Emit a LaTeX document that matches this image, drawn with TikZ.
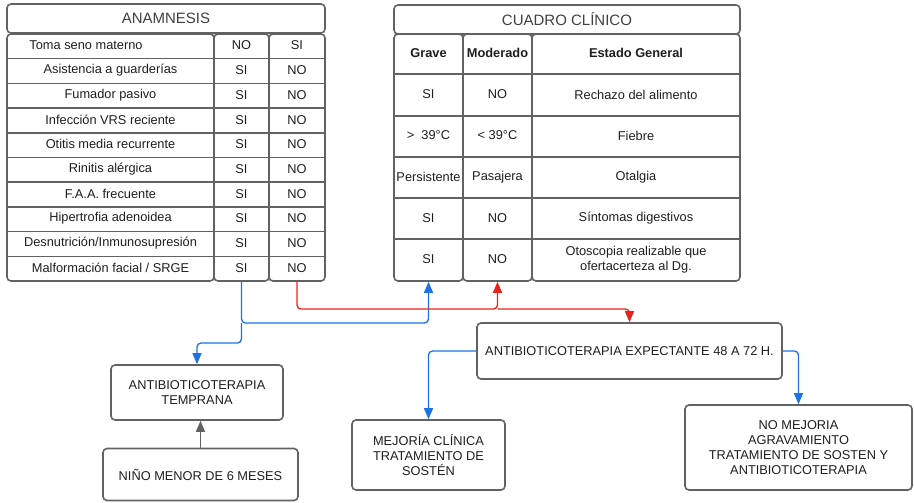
\documentclass[tikz,border=0pt]{standalone}
\usepackage{fontspec}
\setmainfont{Liberation Sans}
\usetikzlibrary{arrows.meta}
\definecolor{edge}{HTML}{626262}
\definecolor{flowblue}{HTML}{1A72E6}
\definecolor{flowred}{HTML}{E8231A}
\definecolor{ink}{HTML}{1E1E1E}

\begin{document}
\begin{tikzpicture}[x=1pt,y=-1pt,
  box/.style={draw=edge, line width=1.6pt, rounded corners=4pt, inner sep=0pt,
    text=ink, align=center, font=\fontsize{12.8}{15}\selectfont},
  titlebox/.style={box, font=\fontsize{15}{18}\selectfont, text=ink!85},
  colbox/.style={draw=edge, line width=1.6pt, rounded corners=4pt, inner sep=0pt},
  cell/.style={inner sep=0pt, text=ink, align=center, font=\fontsize{12.8}{15}\selectfont},
  headcell/.style={cell, font=\fontsize{12.8}{15}\selectfont\bfseries},
  rowline/.style={draw=edge, line width=1.6pt},
  link/.style={line width=1.3pt, rounded corners=4pt, -{Triangle[width=9pt,length=11pt]}}
]
\useasboundingbox (0,0) rectangle (914,503);

% ---------- Anamnesis table ----------
\node[titlebox, minimum width=318pt, minimum height=29pt] (anamT) at (166,18.5) {ANAMNESIS};
\node[colbox, minimum width=207pt, minimum height=247pt] (anamA) at (110.5,157.5) {};
\node[colbox, minimum width=55pt, minimum height=247pt] (anamB) at (241.5,157.5) {};
\node[colbox, minimum width=56pt, minimum height=247pt] (anamC) at (297,157.5) {};
\foreach \y in {58.7,83.4,108.1,132.8,157.5,182.2,206.9,231.6,256.3}
  \draw[rowline] (7,\y) -- (325,\y);

\node[cell] (a1) at (86,45.5) {Toma seno materno};
\node[cell] (a2) at (110.5,70.2) {Asistencia a guarderías};
\node[cell] (a3) at (110.5,94.9) {Fumador pasivo};
\node[cell] (a4) at (110.5,119.6) {Infección VRS reciente};
\node[cell] (a5) at (110.5,144.3) {Otitis media recurrente};
\node[cell] (a6) at (110.5,169) {Rinitis alérgica};
\node[cell] (a7) at (110.5,193.7) {F.A.A. frecuente};
\node[cell] (a8) at (110.5,218.4) {Hipertrofia adenoidea};
\node[cell] (a9) at (110.5,243.1) {Desnutrición/Inmunosupresión};
\node[cell] (a10) at (110.5,267.8) {Malformación facial / SRGE};

\node[cell] (b1) at (241.5,45.5) {NO};
\node[cell] (c1) at (297,45.5) {SI};
\foreach \y [count=\i from 2] in {70.2,94.9,119.6,144.3,169,193.7,218.4,243.1,267.8}{
  \node[cell] (b\i) at (241.5,\y) {SI};
  \node[cell] (c\i) at (297,\y) {NO};
}

% ---------- Cuadro clinico table ----------
\node[titlebox, minimum width=346pt, minimum height=29pt] (cuT) at (567,19.5) {CUADRO CLÍNICO};
\node[colbox, minimum width=69pt, minimum height=247pt] (cuG) at (428.5,157.5) {};
\node[colbox, minimum width=69pt, minimum height=247pt] (cuM) at (497.5,157.5) {};
\node[colbox, minimum width=208pt, minimum height=247pt] (cuE) at (636,157.5) {};
\foreach \y in {74,116,157,198,239}
  \draw[rowline] (394,\y) -- (740,\y);

\node[headcell] (hG) at (428.5,53) {Grave};
\node[headcell] (hM) at (497.5,53) {Moderado};
\node[headcell] (hE) at (636,53) {Estado General};

\node[cell] (g1) at (428.5,94.5) {SI};
\node[cell] (m1) at (497.5,94.5) {NO};
\node[cell] (e1) at (636,94.5) {Rechazo del alimento};
\node[cell] (g2) at (428.5,135.5) {>\ \ 39°C};
\node[cell] (m2) at (497.5,135.5) {< 39°C};
\node[cell] (e2) at (636,135.5) {Fiebre};
\node[cell] (g3) at (428.5,177) {Persistente};
\node[cell] (m3) at (497.5,177) {Pasajera};
\node[cell] (e3) at (636,177) {Otalgia};
\node[cell] (g4) at (428.5,218) {SI};
\node[cell] (m4) at (497.5,218) {NO};
\node[cell] (e4) at (636,218) {Síntomas digestivos};
\node[cell] (g5) at (428.5,259.5) {SI};
\node[cell] (m5) at (497.5,259.5) {NO};
\node[cell] (e5) at (636,259.5) {Otoscopia realizable que\\ofertacerteza al Dg.};

% ---------- Treatment boxes ----------
\node[box, minimum width=172pt, minimum height=55pt] (temprana) at (197,392.5)
  {ANTIBIOTICOTERAPIA\\TEMPRANA};
\node[box, minimum width=195pt, minimum height=52pt] (nino) at (200.5,474.5)
  {NIÑO MENOR DE 6 MESES};
\node[box, minimum width=305pt, minimum height=56pt] (expect) at (629.5,351)
  {ANTIBIOTICOTERAPIA EXPECTANTE 48 A 72 H.};
\node[box, minimum width=153pt, minimum height=70pt] (mejora) at (428.5,455)
  {MEJORÍA CLÍNICA\\TRATAMIENTO DE\\SOSTÉN};
\node[box, minimum width=227pt, minimum height=85pt] (nomej) at (798.5,447.5)
  {NO MEJORIA\\AGRAVAMIENTO\\TRATAMIENTO DE SOSTEN Y\\ANTIBIOTICOTERAPIA};

% ---------- Connectors ----------
\coordinate (blueJoin) at (241.5,323);
\coordinate (redJoin) at (297,309);
\draw[link, flowblue] (anamB.south) -- (blueJoin) -| (cuG.south);
\draw[link, flowblue] (blueJoin) -- ++(0,20) -| (temprana.north);
\draw[link, flowred] (anamC.south) -- (redJoin) -| (cuM.south);
\draw[link, flowred] (cuM.south |- redJoin) -| (expect.north);
\draw[link, flowblue] (expect.west) -| (mejora.north);
\draw[link, flowblue] (expect.east) -| (nomej.north);
\draw[link, edge] (nino.north) -- (nino.north |- temprana.south);
\end{tikzpicture}
\end{document}
